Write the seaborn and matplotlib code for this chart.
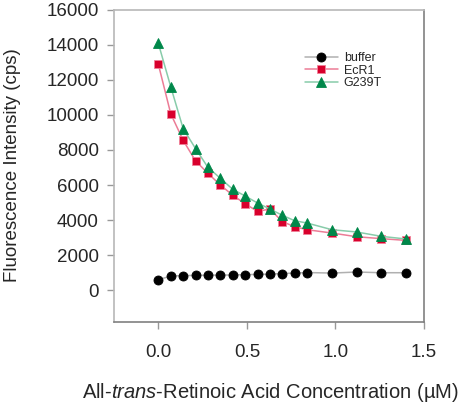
import numpy as np
import pandas as pd
import seaborn as sns
import matplotlib
matplotlib.use('Agg')
import matplotlib.pyplot as plt

conc = [0.0, 0.07, 0.14, 0.21, 0.28, 0.35, 0.42, 0.49, 0.56, 0.63, 0.70, 0.77, 0.84, 0.98, 1.12, 1.26, 1.40]
buffer_vals = [610, 820, 850, 855, 870, 875, 880, 905, 910, 930, 965, 990, 1020, 990, 1050, 1010, 1010]
ecr1_vals = [12880, 10060, 8550, 7380, 6670, 6010, 5420, 4940, 4500, 4640, 3920, 3630, 3460, 3270, 3060, 2950, 2850]
g239t_vals = [14070, 11600, 9220, 8080, 7010, 6390, 5760, 5380, 4980, 4640, 4280, 3970, 3840, 3460, 3330, 3080, 2930]
series_names = ['buffer', 'EcR1', 'G239T']
y_ticks = [0, 2000, 4000, 6000, 8000, 10000, 12000, 14000, 16000]
x_ticks = [0.0, 0.5, 1.0, 1.5]

sns.set_style('white')
plt.rcParams['font.family'] = ['Liberation Sans', 'DejaVu Sans']
plt.rcParams['mathtext.fontset'] = 'custom'
plt.rcParams['mathtext.it'] = 'Liberation Sans:italic'
plt.rcParams['mathtext.rm'] = 'Liberation Sans'

fig = plt.figure(figsize=(4.6, 4.03), dpi=100)
ax = fig.add_axes([0.248, 0.2017, 0.6737, 0.7747])

styles = {
    'buffer': dict(color='#b0b0b0', marker='o', markersize=6.5, markerfacecolor='black', markeredgecolor='black'),
    'EcR1': dict(color='#ec7c96', marker='s', markersize=6, markerfacecolor='#d8002c', markeredgecolor='#f08098'),
    'G239T': dict(color='#88ccaa', marker='^', markersize=7, markerfacecolor='#00884a', markeredgecolor='#00884a'),
}
for name, vals in zip(series_names, [buffer_vals, ecr1_vals, g239t_vals]):
    df = pd.DataFrame({'conc': conc, 'val': vals})
    sns.lineplot(data=df, x='conc', y='val', ax=ax, label=name, linewidth=1.1,
                 markeredgewidth=0.6, **styles[name])

ax.set_xlim(-0.25, 1.5)
ax.set_ylim(-1780, 16000)
ax.set_xticks(x_ticks)
ax.set_xticklabels(['%.1f' % t for t in x_ticks])
ax.set_yticks(y_ticks)
ax.tick_params(axis='both', labelsize=13.5, length=5, width=1, color='#999999',
               direction='out', bottom=True, left=True)
ax.tick_params(axis='x', pad=11)
ax.tick_params(axis='y', pad=6)

ax.spines['left'].set_color('#b8b8b8')
ax.spines['top'].set_color('#b8b8b8')
ax.spines['right'].set_color('#808080')
ax.spines['bottom'].set_color('#808080')
for s in ax.spines.values():
    s.set_linewidth(1.2)

ax.set_xlabel('All-$\\mathit{trans}$-Retinoic Acid Concentration (\u00b5M)', fontsize=14.5)
ax.set_ylabel('Fluorescence Intensity (cps)', fontsize=13.5)
ax.xaxis.set_label_coords(0.503, -0.19)
ax.yaxis.set_label_coords(-0.30, 0.5)

leg = ax.legend(loc='upper left', bbox_to_anchor=(0.6, 0.88), frameon=False, fontsize=9,
                handlelength=2.6, handletextpad=0.5, labelspacing=0.05, borderaxespad=0)

fig.savefig('out.png', dpi=100)
